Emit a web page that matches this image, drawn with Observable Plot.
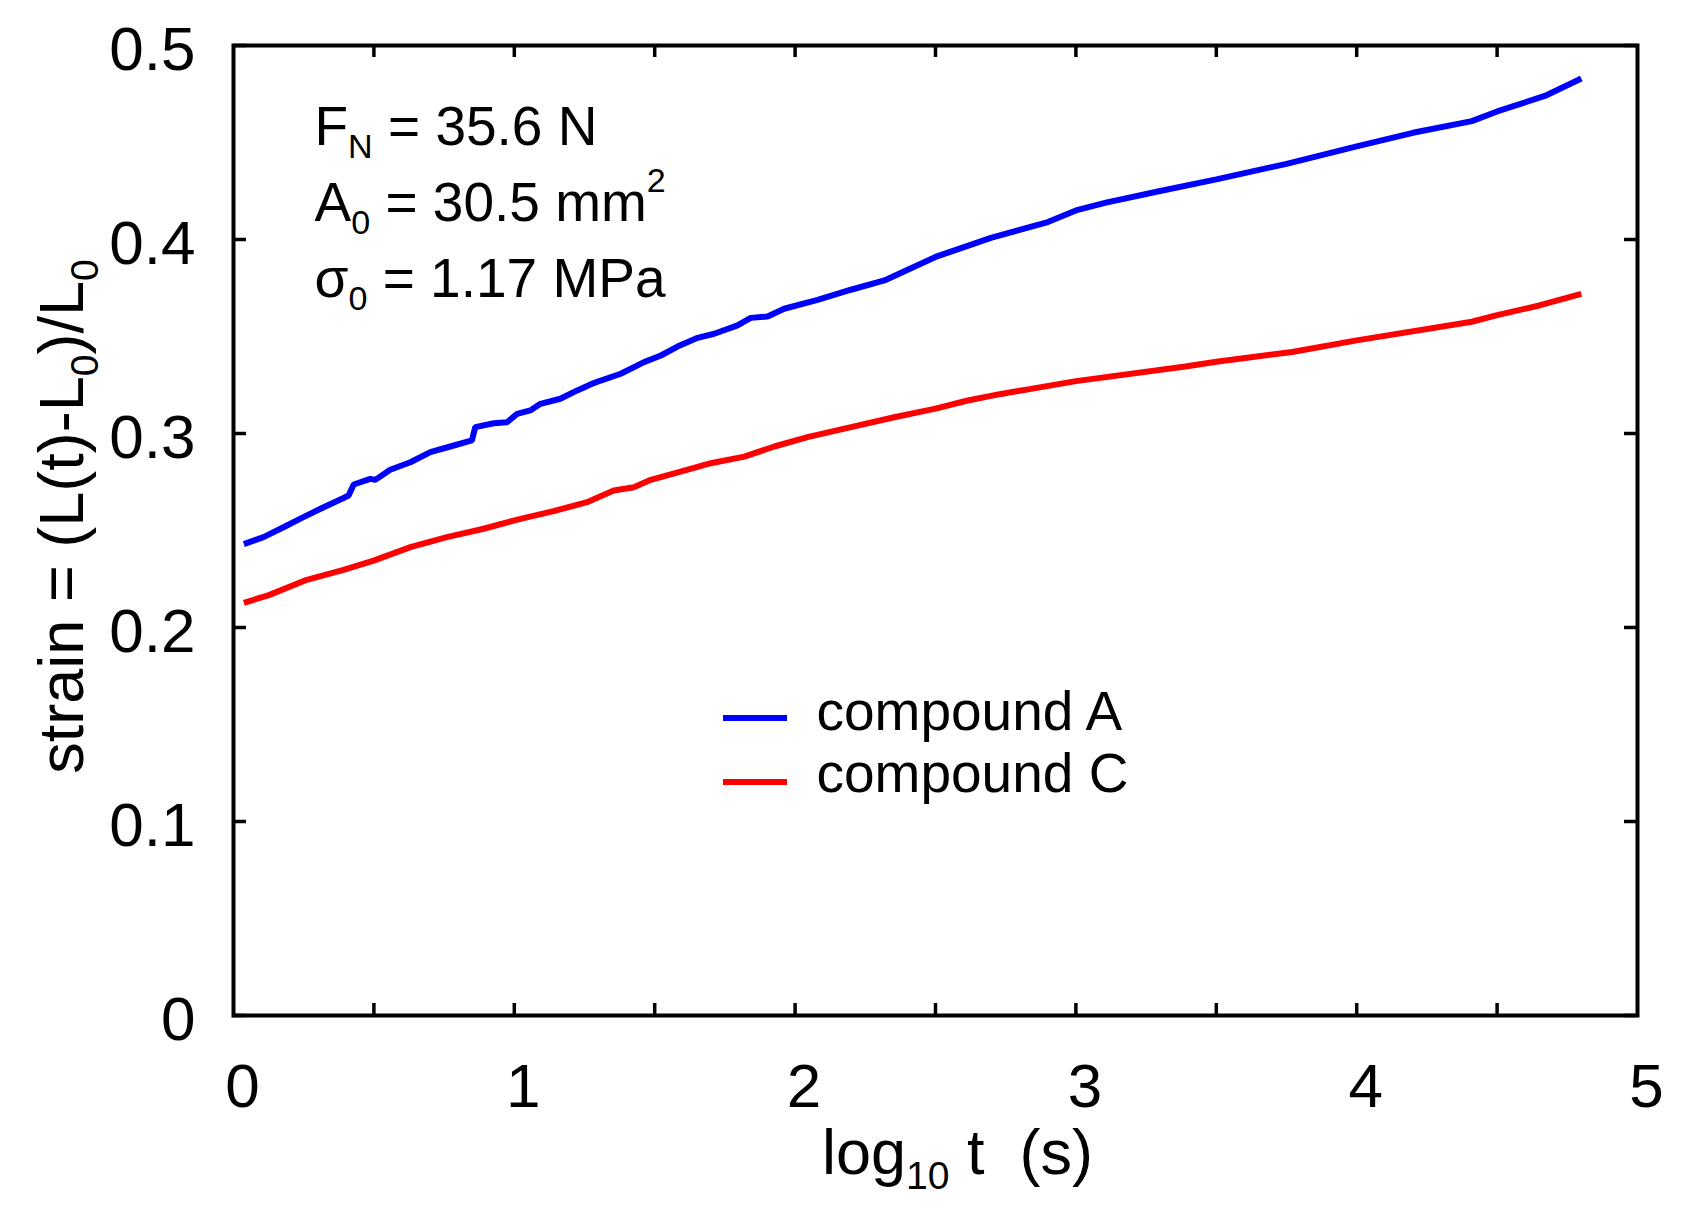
<!DOCTYPE html>
<html>
<head>
<meta charset="utf-8">
<script src="https://cdn.jsdelivr.net/npm/d3@7"></script>
<script src="https://cdn.jsdelivr.net/npm/@observablehq/plot@0.6"></script>
<style>
  html, body { margin: 0; padding: 0; background: #fff; }
  svg text { font-family: "Liberation Sans", Arial, Helvetica, sans-serif; white-space: pre; }
</style>
</head>
<body>
<div id="chart"></div>
<script>
// ---- data ----
const seriesNames = ["compound A", "compound C"];
const seriesColors = ["#0000ff", "#ff0000"];

const compoundA_x = [0.037, 0.107, 0.178, 0.249, 0.321, 0.392, 0.410, 0.428, 0.487, 0.505, 0.558, 0.630, 0.701, 0.772, 0.849, 0.861, 0.927, 0.974, 1.010, 1.057, 1.093, 1.164, 1.224, 1.283, 1.308, 1.379, 1.462, 1.522, 1.581, 1.653, 1.712, 1.795, 1.842, 1.902, 1.961, 2.080, 2.199, 2.318, 2.5, 2.70, 2.9, 3.0, 3.107, 3.3, 3.5, 3.75, 4.0, 4.2, 4.41, 4.5, 4.67, 4.80];
const compoundA_y = [0.2430, 0.2466, 0.2517, 0.2569, 0.2620, 0.2668, 0.2680, 0.2737, 0.2766, 0.2761, 0.2813, 0.2852, 0.2904, 0.2933, 0.2964, 0.3033, 0.3053, 0.3058, 0.3101, 0.3119, 0.3153, 0.3179, 0.3222, 0.3260, 0.3273, 0.3308, 0.3368, 0.3402, 0.3448, 0.3493, 0.3514, 0.3557, 0.3596, 0.3603, 0.3643, 0.3689, 0.3741, 0.3789, 0.391, 0.401, 0.409, 0.415, 0.419, 0.425, 0.431, 0.439, 0.448, 0.455, 0.461, 0.466, 0.474, 0.483];

const compoundC_x = [0.037, 0.126, 0.261, 0.392, 0.499, 0.630, 0.760, 0.891, 1.022, 1.140, 1.259, 1.354, 1.426, 1.486, 1.605, 1.700, 1.819, 1.926, 2.044, 2.199, 2.353, 2.496, 2.615, 2.733, 2.84, 3.0, 3.39, 3.5, 3.77, 4.0, 4.41, 4.5, 4.65, 4.80];
const compoundC_y = [0.2127, 0.2167, 0.2246, 0.2297, 0.2345, 0.2414, 0.2466, 0.2509, 0.2560, 0.2600, 0.2646, 0.2706, 0.2723, 0.2761, 0.2809, 0.2847, 0.2881, 0.2933, 0.2981, 0.3033, 0.3084, 0.3127, 0.3170, 0.3204, 0.323, 0.327, 0.3345, 0.337, 0.342, 0.348, 0.3576, 0.361, 0.366, 0.372];

const xTickLabels = [0, 1, 2, 3, 4, 5];
const xMinorTicks = [0.5, 1, 1.5, 2, 2.5, 3, 3.5, 4, 4.5];
const yTickLabels = [0, 0.1, 0.2, 0.3, 0.4, 0.5];

const annotations = ["F_{N} = 35.6 N", "A_{0} = 30.5 mm^{2}", "σ_{0} = 1.17 MPa"];
const xTitle = "log_{10} t  (s)";
const yTitle = "strain = (L(t)-L_{0})/L_{0}";

// ---- layout ----
const W = 1686, H = 1216;
const mL = 233, mR = 49, mT = 45, mB = 201;
const plotW = W - mL - mR, plotH = H - mT - mB;
const tickLen = 12;

const data = [
  ...compoundA_x.map((x, i) => ({x, y: compoundA_y[i], s: seriesNames[0]})),
  ...compoundC_x.map((x, i) => ({x, y: compoundC_y[i], s: seriesNames[1]}))
];

const chart = Plot.plot({
  width: W, height: H,
  marginLeft: mL, marginRight: mR, marginTop: mT, marginBottom: mB,
  style: {fontFamily: '"Liberation Sans", Arial, Helvetica, sans-serif', background: "#fff", color: "#000"},
  x: {domain: [0, 5]},
  y: {domain: [0, 0.5]},
  color: {domain: seriesNames, range: seriesColors},
  marks: [
    Plot.line(data, {x: "x", y: "y", z: "s", stroke: "s", strokeWidth: 6, strokeLinejoin: "miter", strokeLinecap: "butt"}),
    Plot.tickX(xMinorTicks, {x: d => d, insetTop: plotH - tickLen, stroke: "#000", strokeWidth: 3.5}),
    Plot.tickX(xMinorTicks, {x: d => d, insetBottom: plotH - tickLen, stroke: "#000", strokeWidth: 3.5}),
    Plot.tickY(yTickLabels, {y: d => d, insetRight: plotW - 13, stroke: "#000", strokeWidth: 3.5}),
    Plot.tickY(yTickLabels, {y: d => d, insetLeft: plotW - 13, stroke: "#000", strokeWidth: 3.5}),
    Plot.frame({stroke: "#000", strokeWidth: 4}),
    Plot.axisX({ticks: xTickLabels, tickSize: 0, tickPadding: 47, fontSize: 62, dx: 9, label: null, tickFormat: d => String(d)}),
    Plot.axisY({ticks: yTickLabels, tickSize: 0, tickPadding: 38, fontSize: 62, dy: 5, label: null, tickFormat: d => d === 0 ? "0" : d.toFixed(1)}),
    ...annotations.map((t, i) => Plot.text([t], {frameAnchor: "top-left", textAnchor: "start", lineAnchor: "bottom", dx: 81, dy: 99 + 76 * i, fontSize: 55, fill: "#000"})),
    ...seriesNames.map((t, i) => Plot.text([t], {frameAnchor: "top-left", textAnchor: "start", lineAnchor: "bottom", dx: 583, dy: 684 + 62 * i, fontSize: 55, fill: "#000"})),
    Plot.text([xTitle], {frameAnchor: "bottom", textAnchor: "middle", lineAnchor: "bottom", dx: 22, dy: 158, fontSize: 63, fill: "#000"}),
    Plot.text([yTitle], {frameAnchor: "left", rotate: -90, textAnchor: "middle", lineAnchor: "bottom", dx: -151, dy: -14, fontSize: 63, fill: "#000"})
  ]
});

document.getElementById("chart").appendChild(chart);

// ---- rich text: subscripts / superscripts ----
function richText(el) {
  const s = el.textContent;
  const F = parseFloat(getComputedStyle(el).fontSize) || 50;
  const parts = s.split(/(_\{[^}]*\}|\^\{[^}]*\})/).filter(p => p.length);
  while (el.firstChild) el.removeChild(el.firstChild);
  let shift = 0;
  const ns = "http://www.w3.org/2000/svg";
  for (const p of parts) {
    const t = document.createElementNS(ns, "tspan");
    let target = 0, txt = p, small = false;
    if (p.startsWith("_{")) { target = 0.24 * F; txt = p.slice(2, -1); small = true; }
    else if (p.startsWith("^{")) { target = -0.52 * F; txt = p.slice(2, -1); small = true; }
    const d = target - shift;
    if (d !== 0) t.setAttribute("dy", d.toFixed(2));
    shift = target;
    if (small) t.setAttribute("font-size", (0.62 * F).toFixed(1));
    t.textContent = txt;
    el.appendChild(t);
  }
}
d3.select(chart).selectAll("text").each(function () {
  if (/[_^]\{/.test(this.textContent)) richText(this);
});

// ---- legend line samples ----
const svg = d3.select(chart.tagName.toLowerCase() === "svg" ? chart : chart.querySelector("svg"));
seriesColors.forEach((c, i) => {
  svg.append("line")
    .attr("x1", 723).attr("x2", 787)
    .attr("y1", 718 + 64 * i).attr("y2", 718 + 64 * i)
    .attr("stroke", c).attr("stroke-width", 6);
});
</script>
</body>
</html>
